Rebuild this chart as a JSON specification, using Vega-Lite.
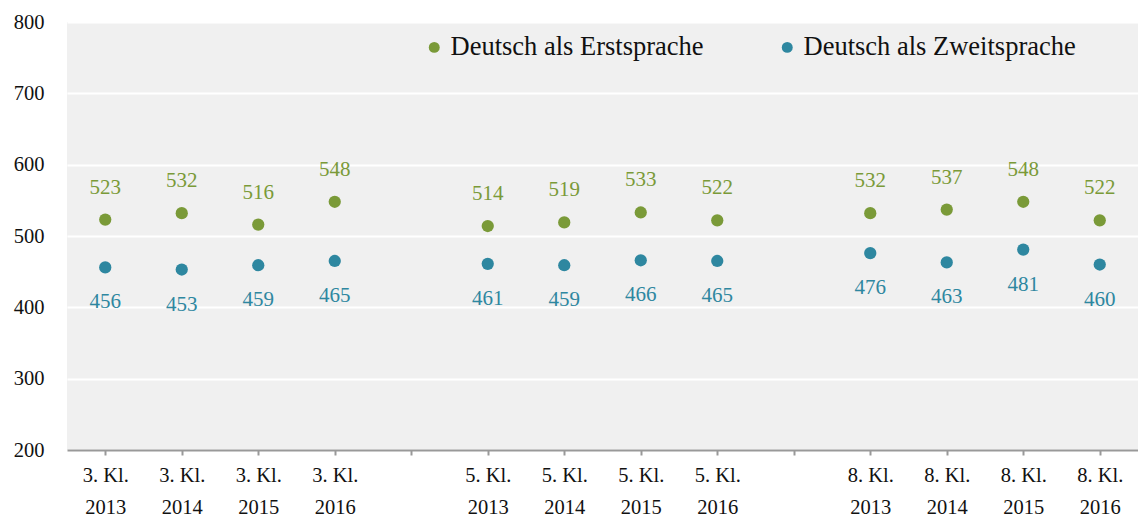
{
  "$schema": "https://vega.github.io/schema/vega-lite/v6.json",
  "width": 1071,
  "height": 428,
  "autosize": {"type": "none"},
  "padding": {"left": 67, "top": 22, "right": 0, "bottom": 67},
  "background": "white",
  "config": {
    "font": "Liberation Serif",
    "view": {"fill": "#f0f0f0", "stroke": null}
  },
  "data": {
    "values": [
      {"kat": "3. Kl.|2013", "serie": "Deutsch als Erstsprache", "wert": 523},
      {"kat": "3. Kl.|2014", "serie": "Deutsch als Erstsprache", "wert": 532},
      {"kat": "3. Kl.|2015", "serie": "Deutsch als Erstsprache", "wert": 516},
      {"kat": "3. Kl.|2016", "serie": "Deutsch als Erstsprache", "wert": 548},
      {"kat": "5. Kl.|2013", "serie": "Deutsch als Erstsprache", "wert": 514},
      {"kat": "5. Kl.|2014", "serie": "Deutsch als Erstsprache", "wert": 519},
      {"kat": "5. Kl.|2015", "serie": "Deutsch als Erstsprache", "wert": 533},
      {"kat": "5. Kl.|2016", "serie": "Deutsch als Erstsprache", "wert": 522},
      {"kat": "8. Kl.|2013", "serie": "Deutsch als Erstsprache", "wert": 532},
      {"kat": "8. Kl.|2014", "serie": "Deutsch als Erstsprache", "wert": 537},
      {"kat": "8. Kl.|2015", "serie": "Deutsch als Erstsprache", "wert": 548},
      {"kat": "8. Kl.|2016", "serie": "Deutsch als Erstsprache", "wert": 522},
      {"kat": "3. Kl.|2013", "serie": "Deutsch als Zweitsprache", "wert": 456},
      {"kat": "3. Kl.|2014", "serie": "Deutsch als Zweitsprache", "wert": 453},
      {"kat": "3. Kl.|2015", "serie": "Deutsch als Zweitsprache", "wert": 459},
      {"kat": "3. Kl.|2016", "serie": "Deutsch als Zweitsprache", "wert": 465},
      {"kat": "5. Kl.|2013", "serie": "Deutsch als Zweitsprache", "wert": 461},
      {"kat": "5. Kl.|2014", "serie": "Deutsch als Zweitsprache", "wert": 459},
      {"kat": "5. Kl.|2015", "serie": "Deutsch als Zweitsprache", "wert": 466},
      {"kat": "5. Kl.|2016", "serie": "Deutsch als Zweitsprache", "wert": 465},
      {"kat": "8. Kl.|2013", "serie": "Deutsch als Zweitsprache", "wert": 476},
      {"kat": "8. Kl.|2014", "serie": "Deutsch als Zweitsprache", "wert": 463},
      {"kat": "8. Kl.|2015", "serie": "Deutsch als Zweitsprache", "wert": 481},
      {"kat": "8. Kl.|2016", "serie": "Deutsch als Zweitsprache", "wert": 460}
    ]
  },
  "encoding": {
    "x": {
      "field": "kat",
      "type": "nominal",
      "sort": null,
      "scale": {
        "domain": ["3. Kl.|2013", "3. Kl.|2014", "3. Kl.|2015", "3. Kl.|2016", "gap1",
                   "5. Kl.|2013", "5. Kl.|2014", "5. Kl.|2015", "5. Kl.|2016", "gap2",
                   "8. Kl.|2013", "8. Kl.|2014", "8. Kl.|2015", "8. Kl.|2016"],
        "paddingInner": 0,
        "paddingOuter": 0
      },
      "axis": {
        "title": null,
        "labelAngle": 0,
        "labelExpr": "indexof(datum.label, 'gap') == 0 ? '' : split(datum.label, '|')",
        "labelFontSize": 20.5,
        "labelColor": "#111111",
        "labelLineHeight": 32,
        "labelPadding": 10,
        "labelBaseline": "top",
        "domainColor": "#999999",
        "domainWidth": 2,
        "tickColor": "#999999",
        "tickWidth": 2,
        "tickSize": 5,
        "grid": false
      }
    },
    "y": {
      "field": "wert",
      "type": "quantitative",
      "scale": {"domain": [200, 800], "nice": false, "zero": false},
      "axis": {
        "title": null,
        "values": [200, 300, 400, 500, 600, 700, 800],
        "labelFontSize": 20.5,
        "labelColor": "#111111",
        "labelPadding": 23,
        "domain": false,
        "ticks": false,
        "grid": true,
        "gridColor": "white",
        "gridWidth": 2
      }
    },
    "color": {
      "field": "serie",
      "type": "nominal",
      "scale": {
        "domain": ["Deutsch als Erstsprache", "Deutsch als Zweitsprache"],
        "range": ["#7a9a38", "#2e87a0"]
      },
      "legend": {
        "title": null,
        "orient": "none",
        "legendX": 354,
        "legendY": 12,
        "direction": "horizontal",
        "symbolType": "circle",
        "symbolSize": 120,
        "symbolOpacity": 1,
        "labelFontSize": 26.5,
        "labelColor": "#111111",
        "labelLimit": 400,
        "labelOffset": 3,
        "columnPadding": 70
      }
    }
  },
  "layer": [
    {
      "mark": {"type": "point", "filled": true, "shape": "circle", "size": 150, "opacity": 1}
    },
    {
      "transform": [{"filter": "datum.serie == 'Deutsch als Erstsprache'"}],
      "mark": {"type": "text", "dy": -32, "fontSize": 21},
      "encoding": {"text": {"field": "wert", "type": "quantitative"}}
    },
    {
      "transform": [{"filter": "datum.serie == 'Deutsch als Zweitsprache'"}],
      "mark": {"type": "text", "dy": 35, "fontSize": 21},
      "encoding": {"text": {"field": "wert", "type": "quantitative"}}
    }
  ]
}
